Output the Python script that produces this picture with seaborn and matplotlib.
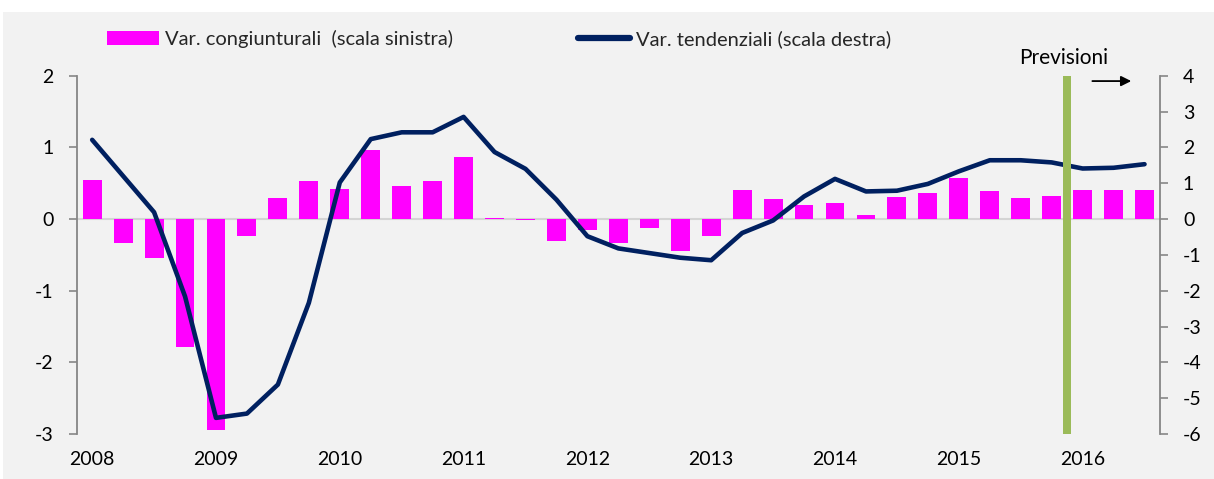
import numpy as np
import pandas as pd
import matplotlib
matplotlib.use("Agg")
import matplotlib.pyplot as plt
from matplotlib.patches import Patch, Rectangle
from matplotlib.lines import Line2D
import seaborn as sns

# ---- data ----
years = ["2008", "2009", "2010", "2011", "2012", "2013", "2014", "2015", "2016"]
quarters = [f"{y}Q{q}" for y in years for q in range(1, 5)][:35]
var_congiunturali = [0.54, -0.34, -0.54, -1.78, -2.95, -0.23, 0.30, 0.53, 0.42, 0.96,
                     0.46, 0.53, 0.87, 0.01, -0.01, -0.31, -0.15, -0.33, -0.13, -0.45,
                     -0.24, 0.41, 0.28, 0.20, 0.23, 0.05, 0.31, 0.36, 0.57, 0.39,
                     0.30, 0.32, 0.40, 0.40, 0.40]
var_tendenziali = [2.21, 1.20, 0.19, -2.16, -5.55, -5.43, -4.62, -2.34, 1.02, 2.23,
                   2.42, 2.42, 2.85, 1.87, 1.40, 0.54, -0.48, -0.82, -0.95, -1.08,
                   -1.15, -0.39, -0.04, 0.63, 1.12, 0.77, 0.79, 0.98, 1.33, 1.64,
                   1.64, 1.58, 1.41, 1.43, 1.53]
left_ticks = [-3, -2, -1, 0, 1, 2]
right_ticks = [-6, -5, -4, -3, -2, -1, 0, 1, 2, 3, 4]
forecast_start = "2016Q1"
label_bar = "Var. congiunturali  (scala sinistra)"
label_line = "Var. tendenziali (scala destra)"
label_prev = "Previsioni"

df = pd.DataFrame({"quarter": quarters,
                   "cong": var_congiunturali,
                   "tend": var_tendenziali})
df["pos"] = np.arange(len(df))

sns.set_style("white")
plt.rcParams["font.family"] = ["Lato", "DejaVu Sans"]
plt.rcParams["axes.unicode_minus"] = False

W, H = 1214, 479
fig = plt.figure(figsize=(W / 100, H / 100), dpi=100, facecolor="white")
fig.patches.append(Rectangle((3 / W, 0), 1 - 3 / W, (H - 12) / H,
                             transform=fig.transFigure, facecolor="#f2f2f2",
                             edgecolor="none", zorder=-10))

left_px, right_px, top_px, bot_px = 76.7, 1160, 75.7, 434
ax = fig.add_axes([left_px / W, (H - bot_px) / H,
                   (right_px - left_px) / W, (bot_px - top_px) / H])
ax.set_facecolor("none")

ax.axhline(0, color="#d4d4d4", lw=1.5, zorder=0)
sns.barplot(data=df, x="quarter", y="cong", color="#ff00ff", saturation=1,
            width=0.61, errorbar=None, ax=ax, zorder=2, linewidth=0,
            edgecolor="none")

ax2 = ax.twinx()
sns.lineplot(data=df, x="pos", y="tend", color="#002060", linewidth=3.3,
             ax=ax2, zorder=3, solid_capstyle="round", solid_joinstyle="round")
fpos = quarters.index(forecast_start) - 0.5
ax2.axvspan(fpos - 0.13, fpos + 0.13, color="#9bbb59", lw=0, zorder=5)

ax.set_xlim(-0.5, len(quarters) - 0.5)
ax.set_ylim(-3, 2)
ax2.set_ylim(-6, 4)
ax.set_yticks(left_ticks)
ax2.set_yticks(right_ticks)
ax.set_xticks(df["pos"][::4])
ax.set_xticklabels(years)
ax.set_xlabel("")
ax.set_ylabel("")
ax2.set_xlabel("")
ax2.set_ylabel("")

gray = "#868686"
for a in (ax, ax2):
    for s in a.spines.values():
        s.set_visible(False)
ax.spines["left"].set_visible(True)
ax.spines["left"].set_color(gray)
ax.spines["left"].set_linewidth(1.3)
ax2.spines["right"].set_visible(True)
ax2.spines["right"].set_color(gray)
ax2.spines["right"].set_linewidth(1.3)

ax.tick_params(axis="y", direction="out", length=5.5, width=1.2, color=gray,
               pad=11, labelsize=14, labelcolor="black", left=True)
ax2.tick_params(axis="y", direction="out", length=5.5, width=1.2, color=gray,
                pad=11, labelsize=14, labelcolor="black", right=True)
ax.tick_params(axis="x", length=0, pad=12, labelsize=14, labelcolor="black")
ax2.tick_params(axis="x", length=0, labelbottom=False)

# forecast annotation
ax.text(0.911, 1.049, label_prev, transform=ax.transAxes, ha="center",
        va="center", fontsize=15, color="black")
ax.annotate("", xy=(0.976, 0.985), xytext=(0.935, 0.985),
            xycoords="axes fraction", textcoords="axes fraction",
            arrowprops=dict(arrowstyle="-|>", color="black", lw=1.3,
                            mutation_scale=15), annotation_clip=False)

handles = [Patch(facecolor="#ff00ff", edgecolor="none"),
           Line2D([0], [0], color="#002060", lw=4.5, solid_capstyle="round")]
fig.legend(handles, [label_bar, label_line], loc="center",
           bbox_to_anchor=(0.411, 1 - 39 / H), ncol=2, frameon=False,
           fontsize=14.5, handlelength=2.6, handleheight=0.7,
           handletextpad=0.3, columnspacing=6.2)

fig.savefig("out.png", dpi=100, facecolor="white")
